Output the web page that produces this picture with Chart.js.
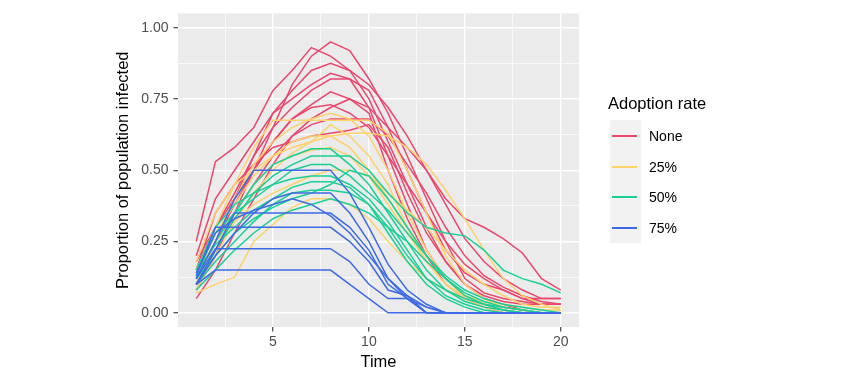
<!DOCTYPE html>
<html><head><meta charset="utf-8">
<script src="https://cdn.jsdelivr.net/npm/chart.js@4.4.1/dist/chart.umd.min.js"></script>
<style>
html,body{margin:0;padding:0;background:#fff;}
#wrap{position:relative;width:850px;height:383px;overflow:hidden;}
#c{position:absolute;left:0;top:0;}
#legend{position:absolute;left:608px;top:93px;width:200px;height:160px;font-family:"Liberation Sans",Arial,sans-serif;color:#000;}
#legend .ttl{position:absolute;left:0;top:0;font-size:16.5px;line-height:20px;white-space:nowrap;}
#legend .keybg{position:absolute;left:2px;top:27px;width:31px;height:123px;background:#F2F2F2;}
#legend .ln{position:absolute;left:4px;width:25px;height:2px;}
#legend .lb{position:absolute;left:41px;height:20px;line-height:20px;font-size:14px;white-space:nowrap;}
</style>
</head><body>
<div id="wrap"><canvas id="c" width="850" height="383"></canvas><div id="legend"></div></div>
<script>
// ---- data ----
const time = [1,2,3,4,5,6,7,8,9,10,11,12,13,14,15,16,17,18,19,20];
const groupNames = ["None","25%","50%","75%"];
const groupColors = ["#EA466E","#FDD26C","#1ACF97","#3E6BE4"];
const xTicks = [5,10,15,20];
const yTicks = [0,0.25,0.5,0.75,1.0];

const runsNone = [
  [0.08,0.20,0.35,0.50,0.65,0.80,0.90,0.95,0.92,0.82,0.70,0.55,0.40,0.25,0.12,0.07,0.05,0.04,0.03,0.03],
  [0.25,0.53,0.58,0.65,0.78,0.85,0.93,0.90,0.85,0.75,0.60,0.45,0.30,0.18,0.10,0.05,0.03,0.01,0.00,0.00],
  [0.10,0.25,0.40,0.55,0.70,0.78,0.85,0.875,0.85,0.80,0.72,0.62,0.50,0.38,0.26,0.18,0.12,0.08,0.05,0.05],
  [0.15,0.30,0.42,0.55,0.65,0.72,0.78,0.82,0.82,0.78,0.65,0.50,0.35,0.22,0.14,0.10,0.08,0.05,0.05,0.05],
  [0.18,0.30,0.40,0.50,0.60,0.68,0.73,0.775,0.75,0.72,0.65,0.58,0.50,0.40,0.33,0.30,0.26,0.21,0.12,0.08],
  [0.12,0.25,0.38,0.50,0.60,0.68,0.72,0.73,0.70,0.65,0.55,0.45,0.35,0.25,0.17,0.12,0.08,0.05,0.03,0.03],
  [0.10,0.22,0.35,0.45,0.55,0.62,0.66,0.68,0.68,0.68,0.62,0.52,0.42,0.30,0.20,0.13,0.09,0.06,0.04,0.03],
  [0.05,0.15,0.28,0.40,0.52,0.62,0.68,0.72,0.75,0.70,0.50,0.33,0.20,0.10,0.05,0.02,0.00,0.00,0.00,0.00],
  [0.20,0.40,0.50,0.60,0.70,0.75,0.80,0.84,0.82,0.72,0.55,0.38,0.22,0.12,0.06,0.03,0.01,0.00,0.00,0.00],
  [0.15,0.35,0.45,0.52,0.58,0.60,0.62,0.63,0.64,0.66,0.58,0.42,0.28,0.18,0.10,0.06,0.04,0.03,0.03,0.03]
];
const runs25 = [
  [0.10,0.25,0.40,0.52,0.60,0.65,0.68,0.70,0.68,0.62,0.50,0.35,0.22,0.12,0.06,0.03,0.02,0.01,0.00,0.00],
  [0.15,0.30,0.45,0.58,0.675,0.675,0.675,0.675,0.675,0.675,0.63,0.50,0.35,0.20,0.10,0.05,0.02,0.01,0.00,0.00],
  [0.08,0.20,0.32,0.42,0.50,0.56,0.60,0.62,0.63,0.63,0.62,0.58,0.52,0.43,0.33,0.22,0.12,0.06,0.03,0.01],
  [0.07,0.10,0.125,0.25,0.31,0.37,0.40,0.40,0.38,0.33,0.25,0.18,0.12,0.08,0.05,0.03,0.02,0.01,0.00,0.00],
  [0.12,0.28,0.38,0.48,0.55,0.60,0.62,0.62,0.58,0.50,0.40,0.30,0.20,0.12,0.06,0.03,0.01,0.00,0.00,0.00],
  [0.10,0.22,0.35,0.45,0.52,0.55,0.57,0.58,0.55,0.48,0.38,0.28,0.18,0.10,0.05,0.02,0.00,0.00,0.00,0.00],
  [0.18,0.35,0.45,0.50,0.55,0.58,0.60,0.66,0.62,0.55,0.45,0.30,0.18,0.10,0.06,0.04,0.03,0.02,0.01,0.01],
  [0.12,0.25,0.32,0.38,0.42,0.45,0.48,0.50,0.50,0.48,0.42,0.36,0.30,0.22,0.15,0.10,0.06,0.03,0.02,0.02]
];
const runs50 = [
  [0.12,0.25,0.35,0.45,0.52,0.55,0.575,0.575,0.52,0.45,0.35,0.25,0.15,0.08,0.04,0.02,0.01,0.00,0.00,0.00],
  [0.10,0.22,0.33,0.42,0.48,0.52,0.55,0.55,0.55,0.50,0.42,0.35,0.30,0.28,0.27,0.22,0.15,0.12,0.10,0.07],
  [0.15,0.30,0.38,0.42,0.45,0.47,0.48,0.48,0.45,0.40,0.32,0.22,0.12,0.06,0.03,0.01,0.00,0.00,0.00,0.00],
  [0.10,0.18,0.25,0.32,0.38,0.42,0.43,0.43,0.42,0.38,0.30,0.20,0.12,0.08,0.05,0.03,0.02,0.01,0.00,0.00],
  [0.12,0.20,0.28,0.33,0.37,0.40,0.42,0.45,0.50,0.48,0.40,0.30,0.20,0.12,0.06,0.03,0.01,0.00,0.00,0.00],
  [0.13,0.28,0.35,0.40,0.45,0.50,0.52,0.52,0.48,0.42,0.36,0.28,0.20,0.13,0.08,0.05,0.03,0.02,0.01,0.00],
  [0.08,0.15,0.22,0.28,0.33,0.36,0.38,0.40,0.38,0.35,0.30,0.25,0.18,0.12,0.07,0.04,0.02,0.01,0.00,0.00],
  [0.14,0.24,0.30,0.36,0.40,0.44,0.46,0.46,0.44,0.38,0.28,0.18,0.10,0.05,0.02,0.00,0.00,0.00,0.00,0.00]
];
const runs75 = [
  [0.12,0.25,0.40,0.50,0.50,0.50,0.50,0.50,0.42,0.30,0.17,0.08,0.03,0.00,0.00,0.00,0.00,0.00,0.00,0.00],
  [0.10,0.22,0.35,0.35,0.35,0.35,0.35,0.35,0.30,0.22,0.10,0.05,0.02,0.00,0.00,0.00,0.00,0.00,0.00,0.00],
  [0.13,0.30,0.30,0.30,0.30,0.30,0.30,0.30,0.25,0.18,0.08,0.06,0.00,0.00,0.00,0.00,0.00,0.00,0.00,0.00],
  [0.12,0.225,0.225,0.225,0.225,0.225,0.225,0.225,0.18,0.10,0.05,0.05,0.00,0.00,0.00,0.00,0.00,0.00,0.00,0.00],
  [0.10,0.15,0.15,0.15,0.15,0.15,0.15,0.15,0.10,0.05,0.00,0.00,0.00,0.00,0.00,0.00,0.00,0.00,0.00,0.00],
  [0.10,0.20,0.28,0.35,0.40,0.42,0.42,0.42,0.35,0.25,0.12,0.05,0.00,0.00,0.00,0.00,0.00,0.00,0.00,0.00],
  [0.14,0.28,0.33,0.36,0.38,0.40,0.38,0.34,0.28,0.20,0.12,0.06,0.02,0.00,0.00,0.00,0.00,0.00,0.00,0.00]
];
const groupRuns = [runsNone, runs25, runs50, runs75];

// ---- build datasets (blue first, red last on top) ----
const datasets = [];
for (let g = groupRuns.length - 1; g >= 0; g--) {
  groupRuns[g].forEach(run => {
    datasets.push({
      label: groupNames[g],
      data: run.map((v, i) => ({x: time[i], y: v})),
      borderColor: groupColors[g],
      borderWidth: 1.5,
      pointRadius: 0,
      tension: 0,
      fill: false
    });
  });
}

const FONT = '"Liberation Sans", Arial, sans-serif';
const minorX = [2.5,7.5,12.5,17.5];
const minorY = [0.125,0.375,0.625,0.875];
const isMajorX = v => xTicks.includes(v);
const isMajorY = v => yTicks.some(t => Math.abs(t - v) < 1e-9);

const panelBg = {
  id: 'panelBg',
  beforeDraw(chart) {
    const {ctx, chartArea: a} = chart;
    ctx.save();
    ctx.fillStyle = '#EBEBEB';
    ctx.fillRect(a.left, a.top, a.right - a.left, a.bottom - a.top);
    ctx.restore();
  }
};

new Chart(document.getElementById('c'), {
  type: 'line',
  data: {datasets},
  plugins: [panelBg],
  options: {
    responsive: false,
    animation: false,
    events: [],
    layout: {padding: {left: 0, right: 271, top: 9.6, bottom: 0}},
    plugins: {legend: {display: false}, tooltip: {enabled: false}},
    scales: {
      x: {
        type: 'linear', min: 0.05, max: 20.95,
        afterBuildTicks: s => { s.ticks = [...minorX, ...xTicks].sort((a,b)=>a-b).map(v => ({value: v})); },
        afterFit: s => { s.height = 383 - 327.1; },
        border: {display: false},
        grid: {
          color: '#FFFFFF',
          lineWidth: c => isMajorX(c.tick.value) ? 1.4 : 0.7,
          tickColor: c => isMajorX(c.tick.value) ? '#333333' : 'rgba(0,0,0,0)',
          tickWidth: 1.1, tickLength: 4.5, drawTicks: true
        },
        ticks: {
          autoSkip: false, maxRotation: 0, padding: 2,
          color: '#4D4D4D', font: {family: FONT, size: 14},
          callback: v => isMajorX(v) ? String(v) : ''
        },
        title: {display: true, text: 'Time', color: '#000', font: {family: FONT, size: 16.5}, padding: {top: 0, bottom: 11}}
      },
      y: {
        type: 'linear', min: -0.05, max: 1.05,
        afterBuildTicks: s => { s.ticks = [...yTicks, ...minorY].sort((a,b)=>a-b).map(v => ({value: v})); },
        afterFit: s => { s.width = 178; },
        border: {display: false},
        grid: {
          color: '#FFFFFF',
          lineWidth: c => isMajorY(c.tick.value) ? 1.4 : 0.7,
          tickColor: c => isMajorY(c.tick.value) ? '#333333' : 'rgba(0,0,0,0)',
          tickWidth: 1.1, tickLength: 4.5, drawTicks: true
        },
        ticks: {
          autoSkip: false, padding: 5,
          color: '#4D4D4D', font: {family: FONT, size: 14},
          callback: v => isMajorY(v) ? v.toFixed(2) : ''
        },
        title: {display: true, text: 'Proportion of population infected', color: '#000', font: {family: FONT, size: 16.5}, padding: {top: 114, bottom: 0}}
      }
    }
  }
});

// ---- legend (HTML text) ----
const lg = document.getElementById('legend');
const keyLineTops = [42, 73, 103, 134];
let html = '<div class="ttl">Adoption rate</div><div class="keybg"></div>';
groupNames.forEach((n, i) => {
  html += '<div class="ln" style="top:' + keyLineTops[i] + 'px;background:' + groupColors[i] + '"></div>';
  html += '<div class="lb" style="top:' + (keyLineTops[i] - 9) + 'px">' + n + '</div>';
});
lg.innerHTML = html;
</script>
</body></html>
